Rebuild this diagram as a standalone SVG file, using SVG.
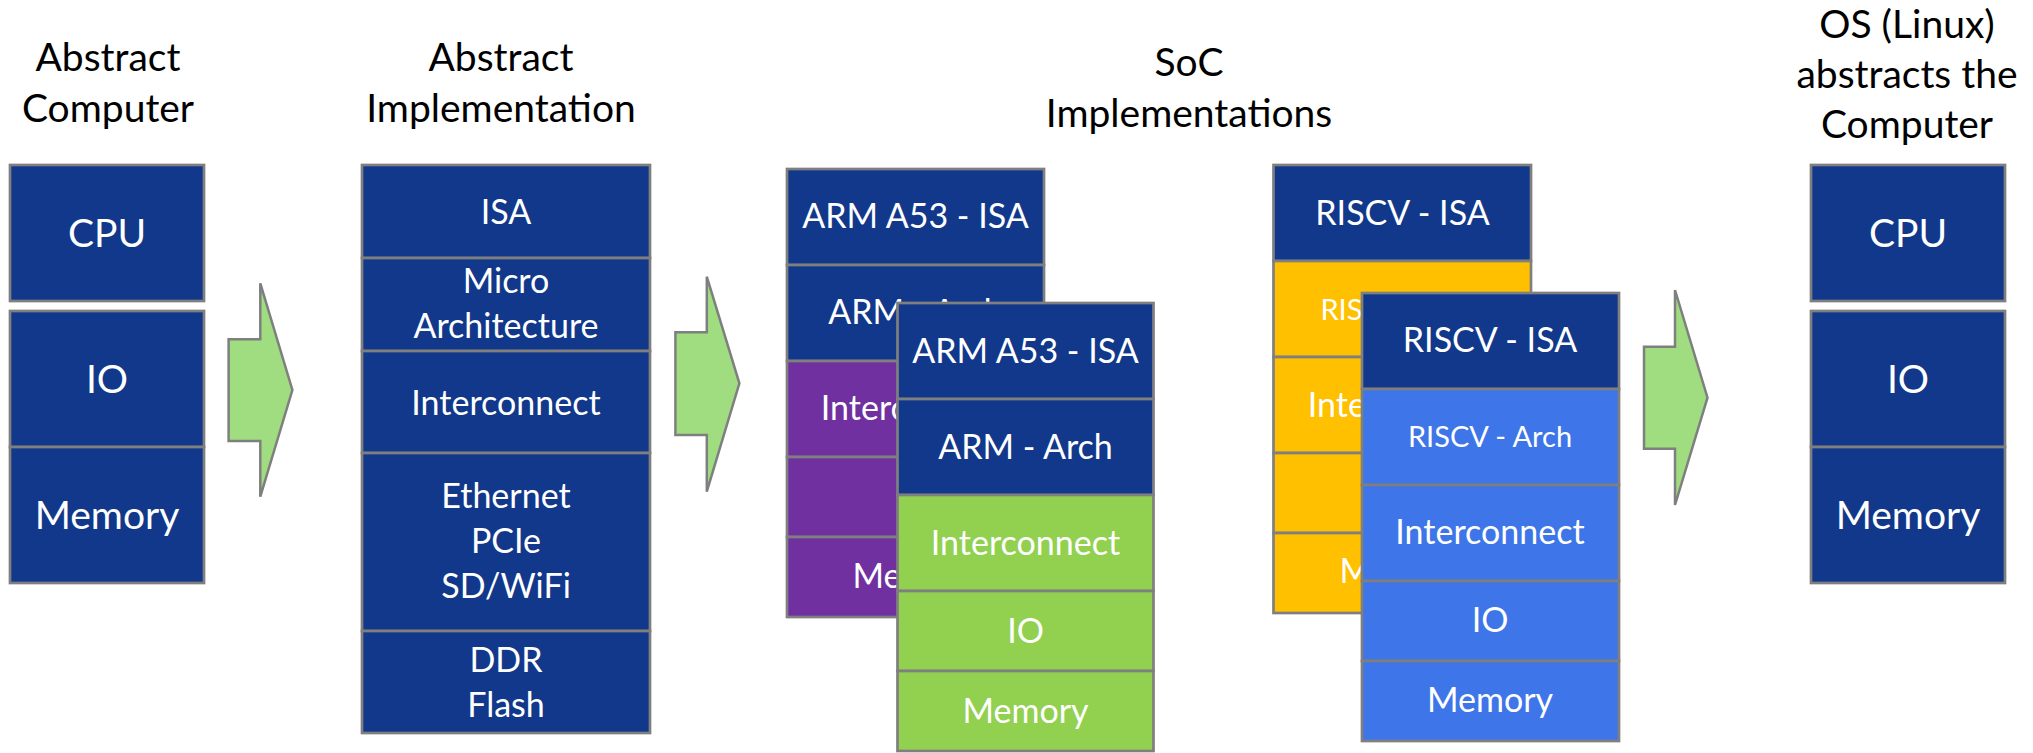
<svg xmlns="http://www.w3.org/2000/svg" width="2033" height="753" viewBox="0 0 2033 753">
<style>
.b{stroke:#7f7f7f;stroke-width:2.7}
.navy{fill:#11388a}
.purple{fill:#7030a0}
.green{fill:#92d050}
.yellow{fill:#ffc000}
.blue{fill:#3e75e8}
.arrow{fill:#9fdd80;stroke:#7f7f7f;stroke-width:2.5}
text{font-family:Lato,"Open Sans",sans-serif;text-anchor:middle}
.t{fill:#000;font-size:39px}
.w{fill:#fff;font-size:39px}
.s{fill:#fff;font-size:34px}
.xs{fill:#fff;font-size:29px}
</style>
<defs>
<clipPath id="clipArmBack"><polygon points="787,169 1044,169 1044,303 897.5,303 897.5,617 787,617"/></clipPath>
<clipPath id="clipRiscvBack"><polygon points="1273.5,165 1531,165 1531,293 1362,293 1362,613 1273.5,613"/></clipPath>
</defs>
<rect width="2033" height="753" fill="#fff"/>

<g id="title-abstract-computer">
<text class="t" x="108" y="71">Abstract</text>
<text class="t" x="108" y="122">Computer</text>
</g>
<g id="title-abstract-implementation">
<text class="t" x="501" y="71">Abstract</text>
<text class="t" x="501" y="122">Implementation</text>
</g>
<g id="title-soc">
<text class="t" x="1189" y="76">SoC</text>
<text class="t" x="1189" y="127">Implementations</text>
</g>
<g id="title-os">
<text class="t" x="1907" y="38">OS (Linux)</text>
<text class="t" x="1907" y="88">abstracts the</text>
<text class="t" x="1907" y="138">Computer</text>
</g>

<g id="abstract-computer">
<rect class="b navy" x="10" y="165" width="194" height="136"/>
<rect class="b navy" x="10" y="311" width="194" height="136"/>
<rect class="b navy" x="10" y="447" width="194" height="136"/>
<text class="w" x="107" y="246.5">CPU</text>
<text class="w" x="107" y="393">IO</text>
<text class="w" x="107" y="529">Memory</text>
</g>

<g id="abstract-implementation">
<rect class="b navy" x="362" y="165" width="288" height="93"/>
<rect class="b navy" x="362" y="258" width="288" height="93"/>
<rect class="b navy" x="362" y="351" width="288" height="102"/>
<rect class="b navy" x="362" y="453" width="288" height="178"/>
<rect class="b navy" x="362" y="631" width="288" height="102"/>
<text class="s" x="506" y="224">ISA</text>
<text class="s" x="506" y="293">Micro</text>
<text class="s" x="506" y="338">Architecture</text>
<text class="s" x="506" y="415">Interconnect</text>
<text class="s" x="506" y="508">Ethernet</text>
<text class="s" x="506" y="553">PCIe</text>
<text class="s" x="506" y="598">SD/WiFi</text>
<text class="s" x="506" y="672">DDR</text>
<text class="s" x="506" y="717">Flash</text>
</g>

<g id="arm-soc-back">
<rect class="b navy" x="787" y="169" width="257" height="96"/>
<rect class="b navy" x="787" y="265" width="257" height="96"/>
<rect class="b purple" x="787" y="361" width="257" height="96"/>
<rect class="b purple" x="787" y="457" width="257" height="80"/>
<rect class="b purple" x="787" y="537" width="257" height="80"/>
<g clip-path="url(#clipArmBack)">
<text class="s" x="915.5" y="228">ARM A53 - ISA</text>
<text class="s" x="915.5" y="324">ARM - Arch</text>
<text class="s" x="915.5" y="420">Interconnect</text>
<text class="s" x="915.5" y="509">IO</text>
<text class="s" x="915.5" y="588">Memory</text>
</g>
</g>

<g id="arm-soc-front">
<rect class="b navy" x="897.5" y="303" width="256" height="96"/>
<rect class="b navy" x="897.5" y="399" width="256" height="96"/>
<rect class="b green" x="897.5" y="495" width="256" height="96"/>
<rect class="b green" x="897.5" y="591" width="256" height="80"/>
<rect class="b green" x="897.5" y="671" width="256" height="80"/>
<text class="s" x="1025.5" y="362.5">ARM A53 - ISA</text>
<text class="s" x="1025.5" y="459">ARM - Arch</text>
<text class="s" x="1025.5" y="555">Interconnect</text>
<text class="s" x="1025.5" y="643">IO</text>
<text class="s" x="1025.5" y="723">Memory</text>
</g>

<g id="riscv-soc-back">
<rect class="b navy" x="1273.5" y="165" width="257.5" height="96"/>
<rect class="b yellow" x="1273.5" y="261" width="257.5" height="96"/>
<rect class="b yellow" x="1273.5" y="357" width="257.5" height="96"/>
<rect class="b yellow" x="1273.5" y="453" width="257.5" height="80"/>
<rect class="b yellow" x="1273.5" y="533" width="257.5" height="80"/>
<g clip-path="url(#clipRiscvBack)">
<text class="s" x="1402.5" y="225">RISCV - ISA</text>
<text class="xs" x="1402.5" y="320">RISCV - Arch</text>
<text class="s" x="1402.5" y="417">Interconnect</text>
<text class="s" x="1402.5" y="505">IO</text>
<text class="s" x="1402.5" y="583">Memory</text>
</g>
</g>

<g id="riscv-soc-front">
<rect class="b navy" x="1362" y="293" width="257" height="96"/>
<rect class="b blue" x="1362" y="389" width="257" height="96"/>
<rect class="b blue" x="1362" y="485" width="257" height="96"/>
<rect class="b blue" x="1362" y="581" width="257" height="80"/>
<rect class="b blue" x="1362" y="661" width="257" height="80"/>
<text class="s" x="1490" y="351.5">RISCV - ISA</text>
<text class="xs" x="1490" y="447">RISCV - Arch</text>
<text class="s" x="1490" y="544">Interconnect</text>
<text class="s" x="1490" y="631.5">IO</text>
<text class="s" x="1490" y="711.5">Memory</text>
</g>

<g id="os-computer">
<rect class="b navy" x="1811" y="165" width="194" height="136"/>
<rect class="b navy" x="1811" y="311" width="194" height="136"/>
<rect class="b navy" x="1811" y="447" width="194" height="136"/>
<text class="w" x="1908" y="246.5">CPU</text>
<text class="w" x="1908" y="393">IO</text>
<text class="w" x="1908" y="529">Memory</text>
</g>

<g id="connectors">
<polygon class="arrow" points="228.6,339.3 260.3,339.3 260.3,283.3 292.4,390 260.3,496.7 260.3,441 228.6,441"/>
<polygon class="arrow" points="675.4,332.3 706.8,332.3 706.8,276.7 739.4,383.3 706.8,491.7 706.8,435 675.4,435"/>
<polygon class="arrow" points="1644,346.7 1675,346.7 1675,290 1707.5,397.7 1675,505 1675,448.7 1644,448.7"/>
</g>
</svg>
